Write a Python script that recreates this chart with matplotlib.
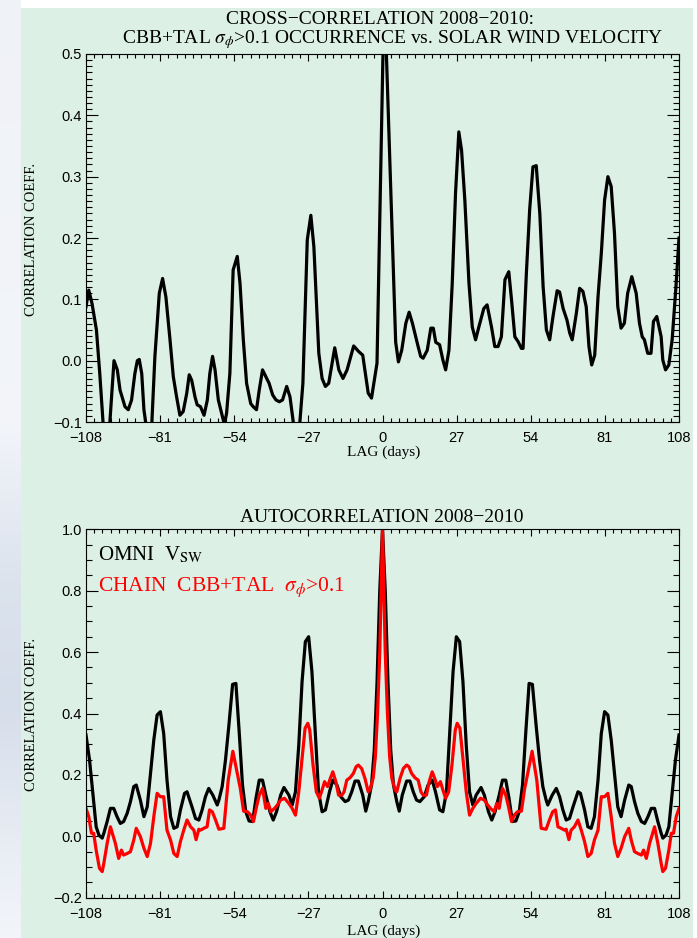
"""
Cross-correlation / autocorrelation of CHAIN scintillation occurrence and OMNI solar wind speed
"""
import numpy as np
import matplotlib
matplotlib.use('Agg')
import matplotlib.pyplot as plt
import matplotlib as mpl
from matplotlib.ticker import MultipleLocator
from matplotlib.patches import Rectangle

mpl.rcParams['font.family'] = 'Liberation Serif'
mpl.rcParams['mathtext.fontset'] = 'stix'
mpl.rcParams['axes.linewidth'] = 0.8

#==============================================================================
# Data

lag_ticks = [-108, -81, -54, -27, 0, 27, 54, 81, 108]
xc_yticks = [-0.1, 0.0, 0.1, 0.2, 0.3, 0.4, 0.5]
ac_yticks = [-0.2, 0.0, 0.2, 0.4, 0.6, 0.8, 1.0]

# 1) cross-correlation: CBB+TAL sigma_phi>0.1 occurrence vs. solar wind velocity
xc_lag = [-108, -107, -105.8, -104.2, -103, -101.8, -100.5, -99.3, -97.8, -96.6,
          -95.6, -93.8, -92.6, -91.4, -90.2, -89.3, -88.6, -87.7, -86.9, -85.2,
          -84, -82.9, -81.3, -80.1, -78.9, -77.4, -76.2, -75, -73.8, -72.6,
          -71.3, -70.4, -69.5, -68.3, -67.5, -66.3, -65, -63.8, -62.9, -61.9,
          -61, -59.8, -58.6, -57.6, -56.8, -55.6, -54.4, -52.9, -51.9, -50.7,
          -49.5, -48, -47.1, -45.9, -44.9, -43.7, -42.5, -41.3, -40, -38.8,
          -37.6, -36.4, -34.9, -33.7, -32.5, -31.3, -30.1, -29, -27.4, -26.1,
          -25, -23.2, -22, -20.8, -19.6, -17.4, -15.9, -14.4, -12.9, -10.5,
          -8.7, -7.2, -5.2, -4, -2, -1.2, 0.3, 1.2, 4.8, 5.8,
          7, 8.5, 9.7, 10.9, 12.7, 13.9, 14.8, 16.3, 17.6, 18.5,
          19.4, 20.8, 22, 23, 24.2, 25.4, 26.6, 27.8, 28.8, 30,
          31.5, 32.7, 33.9, 35.1, 36.9, 38.1, 39.7, 40.9, 42.1, 43.3,
          44.6, 46, 47, 48.2, 49.4, 50.6, 51.2, 52.4, 53.6, 54.8,
          56, 57.3, 58.5, 59.7, 60.9, 62.1, 63.6, 64.5, 65.8, 67.2,
          68.2, 69.1, 70.6, 71.8, 73, 74.2, 75.2, 76.2, 77.3, 78.5,
          79.7, 80.9, 82.1, 83.3, 84.5, 85.7, 86.9, 88.1, 89.3, 90.8,
          92.4, 93.6, 94.6, 95.4, 96.6, 97.8, 98.7, 99.9, 101.5, 102.1,
          103.1, 104.3, 105.5, 106.9, 108]
xc_corr = [0.088, 0.115, 0.093, 0.05, -0.02, -0.1, -0.14, -0.1, 0.0, -0.015,
           -0.048, -0.075, -0.08, -0.064, -0.021, 0.0, 0.002, -0.021, -0.08, -0.135,
           -0.1, 0.007, 0.11, 0.134, 0.104, 0.034, -0.026, -0.059, -0.089, -0.083,
           -0.053, -0.023, -0.032, -0.059, -0.072, -0.075, -0.089, -0.064, -0.021, 0.007,
           -0.015, -0.064, -0.086, -0.104, -0.086, -0.021, 0.148, 0.17, 0.126, 0.034,
           -0.037, -0.07, -0.075, -0.08, -0.048, -0.015, -0.026, -0.037, -0.056, -0.064,
           -0.067, -0.064, -0.042, -0.059, -0.1, -0.13, -0.1, -0.037, 0.197, 0.237,
           0.186, 0.012, -0.029, -0.042, -0.037, 0.021, -0.015, -0.029, -0.015, 0.024,
           0.015, 0.009, -0.053, -0.061, -0.004, 0.18, 0.53, 0.53, 0.03, -0.002,
           0.017, 0.061, 0.079, 0.061, 0.028, 0.007, 0.004, 0.017, 0.053, 0.053,
           0.03, 0.026, 0.001, -0.015, 0.017, 0.126, 0.273, 0.373, 0.343, 0.261,
           0.126, 0.055, 0.034, 0.055, 0.085, 0.091, 0.055, 0.023, 0.023, 0.039,
           0.132, 0.145, 0.099, 0.039, 0.031, 0.02, 0.02, 0.142, 0.246, 0.316,
           0.318, 0.24, 0.121, 0.05, 0.034, 0.072, 0.114, 0.112, 0.085, 0.066,
           0.045, 0.034, 0.077, 0.118, 0.113, 0.088, 0.023, -0.007, 0.009, 0.104,
           0.175, 0.262, 0.3, 0.284, 0.208, 0.088, 0.053, 0.061, 0.11, 0.137,
           0.11, 0.061, 0.039, 0.034, 0.012, 0.012, 0.064, 0.072, 0.039, 0.001,
           -0.015, -0.007, 0.034, 0.121, 0.2]

# 2) autocorrelations -- symmetric about lag 0, so only lag >= 0 is listed
omni_lag = [0, 1, 2, 3, 4, 5.2, 6.1, 7.2, 8.8, 10,
            11.2, 12.4, 13.6, 15.2, 16.6, 18.1, 19.3, 20.8, 22, 23.3,
            24.5, 25.7, 26.9, 28.1, 29.3, 30.5, 31.7, 32.9, 34.1, 35.9,
            37.1, 38.6, 39.8, 41, 42.5, 43.7, 44.9, 46.1, 47.3, 48.6,
            49.8, 51, 52.2, 53.4, 54.6, 56, 57.2, 58.4, 59.6, 60.2,
            61.8, 63.3, 64.5, 65.7, 66.9, 68.1, 69.4, 71.2, 72.1, 73.6,
            74.8, 76, 77.2, 78.5, 79.7, 80.9, 82.1, 83.3, 84.5, 85.7,
            86.9, 88.2, 89.7, 90.6, 91.8, 93, 94.3, 95.5, 96.7, 97.9,
            99.1, 100.3, 101.5, 102.1, 103.3, 104.3, 105.5, 106.7, 108]
omni_acf = [1.0, 0.8, 0.5, 0.28, 0.167, 0.113, 0.082, 0.134, 0.18, 0.18,
            0.145, 0.118, 0.113, 0.129, 0.167, 0.183, 0.145, 0.086, 0.08, 0.145,
            0.34, 0.536, 0.65, 0.634, 0.504, 0.297, 0.145, 0.102, 0.134, 0.159,
            0.134, 0.08, 0.053, 0.08, 0.134, 0.183, 0.183, 0.123, 0.048, 0.05,
            0.08, 0.167, 0.34, 0.498, 0.495, 0.357, 0.248, 0.162, 0.118, 0.102,
            0.134, 0.156, 0.129, 0.086, 0.053, 0.058, 0.096, 0.145, 0.14, 0.086,
            0.031, 0.026, 0.064, 0.183, 0.335, 0.406, 0.395, 0.314, 0.205, 0.096,
            0.064, 0.118, 0.167, 0.162, 0.113, 0.075, 0.048, 0.042, 0.064, 0.091,
            0.091, 0.048, 0.01, -0.006, 0.004, 0.031, 0.14, 0.248, 0.33]

chain_lag = [0, 1, 1.8, 2.6, 3.4, 4.6, 5.2, 6.4, 7.6, 8.8,
             9.6, 10.6, 11.8, 13, 14, 14.8, 16, 17, 18.1, 19,
             20, 21.1, 22, 23, 24.1, 25.3, 26.5, 27.2, 28.2, 29.3,
             30.5, 31.7, 32.9, 34.1, 35.7, 37.1, 38.3, 39.3, 40.7, 41.6,
             42.5, 43.7, 44.9, 45.9, 47, 48, 49.2, 50.6, 51.8, 53,
             54.5, 56.2, 57.8, 59.6, 60.8, 62, 63, 63.9, 65.1, 66.3,
             66.9, 67.9, 68.7, 69.9, 71.2, 72.4, 73.6, 74.8, 76, 77.2,
             78.5, 79.7, 80.9, 82.1, 83.3, 84.5, 85.7, 86.9, 88.2, 89.7,
             90.6, 91.8, 93, 94.3, 95.1, 96.1, 97.3, 99.1, 100.3, 101.5,
             102.1, 103.1, 104.3, 105.2, 106, 107, 108]
chain_acf = [1.0, 0.6, 0.4, 0.26, 0.189, 0.151, 0.145, 0.189, 0.221, 0.232,
             0.227, 0.205, 0.191, 0.183, 0.145, 0.134, 0.134, 0.178, 0.21, 0.189,
             0.162, 0.178, 0.151, 0.124, 0.145, 0.232, 0.346, 0.368, 0.352, 0.254,
             0.145, 0.069, 0.091, 0.107, 0.124, 0.118, 0.102, 0.091, 0.08, 0.107,
             0.091, 0.156, 0.134, 0.096, 0.048, 0.069, 0.08, 0.082, 0.156, 0.21,
             0.277, 0.183, 0.026, 0.023, 0.053, 0.08, 0.086, 0.031, 0.026, 0.02,
             0.023, -0.011, 0.02, 0.031, 0.053, 0.02, -0.017, -0.066, -0.056, -0.012,
             0.02, 0.129, 0.129, 0.14, 0.064, -0.023, -0.066, -0.039, -0.001, 0.026,
             -0.012, -0.05, -0.056, -0.061, -0.045, -0.072, -0.023, 0.031, -0.023, -0.088,
             -0.115, -0.104, -0.045, 0.01, 0.01, 0.064, 0.091]

#==============================================================================

def mirror(lag, val):
    # autocorrelation is even in lag: reflect the lag >= 0 half
    lag = np.asarray(lag, float)
    val = np.asarray(val, float)
    return np.concatenate([-lag[:0:-1], lag]), np.concatenate([val[:0:-1], val])

def lbl(v, fmt):
    return (fmt % v).replace('-', '\u2212')

W, H = 697., 938.
GREEN = '#dcf0e6'

fig = plt.figure(figsize=(6.97, 9.38), dpi=100, facecolor='white')

# slide-like background: light strip at left, green panel behind the plots
bg = fig.add_axes([0, 0, 21/W, 1])
ys = np.linspace(0, 1, 200)
stops_y = [0.0, 0.45, 0.62, 0.75, 0.88, 1.0]
stops_c = np.array([[0.94, 0.95, 0.97], [0.95, 0.96, 0.98], [0.86, 0.89, 0.93],
                    [0.84, 0.87, 0.92], [0.90, 0.92, 0.95], [0.95, 0.96, 0.98]])
grad = np.stack([np.interp(ys, stops_y, stops_c[:, k]) for k in range(3)], axis=1)
bg.imshow(grad[:, None, :], aspect='auto', extent=[0, 1, 0, 1], origin='upper')
bg.set_axis_off()
fig.patches.append(Rectangle((21/W, 0), (693-21)/W, 1-8/H, transform=fig.transFigure,
                             facecolor=GREEN, edgecolor='none', zorder=-1))

def style_axes(ax, ylim, yticks, ymajor_fmt, yminor):
    ax.set_facecolor('none')
    ax.set_xlim(-108, 108)
    ax.set_ylim(*ylim)
    ax.set_xticks(lag_ticks)
    ax.set_xticklabels([lbl(t, '%d') for t in lag_ticks])
    ax.set_yticks(yticks)
    ax.set_yticklabels([lbl(t, ymajor_fmt) for t in yticks])
    ax.xaxis.set_minor_locator(MultipleLocator(3))
    ax.yaxis.set_minor_locator(MultipleLocator(yminor))
    ax.tick_params(which='both', direction='in', top=True, right=True, width=0.8,
                   labelfontfamily='Liberation Sans', labelsize=10.5, colors='black')
    ax.tick_params(axis='x', which='major', length=5.3, pad=6.5)
    ax.tick_params(axis='x', which='minor', length=2.7)
    ax.tick_params(axis='y', which='major', length=8.6, pad=3)
    ax.tick_params(axis='y', which='minor', length=4.3)

# 1) cross-correlation
ax1 = fig.add_axes([86/W, 1-422/H, 593/W, 368/H])
ax1.plot(xc_lag, xc_corr, color='black', lw=2.3)
style_axes(ax1, (-0.1, 0.5), xc_yticks, '%.1f', 0.01)

fig.text(380/W, 1-24/H, 'CROSS\u2212CORRELATION 2008\u22122010:', ha='center',
         va='baseline', fontsize=14)
fig.text(393/W, 1-43/H, r'CBB+TAL $\sigma_{\phi}$>0.1 OCCURRENCE vs. SOLAR WIND VELOCITY',
         ha='center', va='baseline', fontsize=14)
fig.text(384/W, 1-456/H, 'LAG (days)', ha='center', va='baseline', fontsize=11)
fig.text(32/W, 1-239/H, 'CORRELATION COEFF.', ha='center', va='center',
         rotation=90, fontsize=10.5)

# 2) autocorrelations
ax2 = fig.add_axes([86/W, 1-897.7/H, 593/W, 368.4/H])
lo, vo = mirror(omni_lag, omni_acf)
lc, vc = mirror(chain_lag, chain_acf)
ax2.plot(lo, vo, color='black', lw=2.3)
ax2.plot(lc, vc, color='red', lw=2.3)
style_axes(ax2, (-0.2, 1.0), ac_yticks, '%.1f', 0.05)

ax2.text(0.02, 0.915, r'OMNI  V$_{\mathrm{SW}}$', transform=ax2.transAxes,
         fontsize=15, color='black', va='baseline')
ax2.text(0.02, 0.833, r'CHAIN  CBB+TAL  $\sigma_{\phi}$>0.1', transform=ax2.transAxes,
         fontsize=15.5, color='red', va='baseline')

fig.text(382/W, 1-522/H, 'AUTOCORRELATION 2008\u22122010', ha='center',
         va='baseline', fontsize=14)
fig.text(384/W, 1-935/H, 'LAG (days)', ha='center', va='baseline', fontsize=11)
fig.text(32/W, 1-714/H, 'CORRELATION COEFF.', ha='center', va='center',
         rotation=90, fontsize=10.5)

plt.savefig('out.png', dpi=100, facecolor='white')
